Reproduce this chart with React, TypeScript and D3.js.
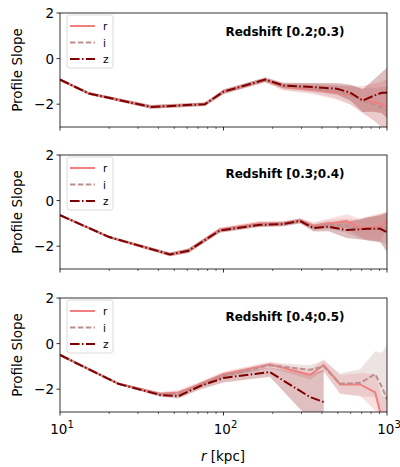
import * as d3 from 'd3';

// radii (kpc) and profile slopes
const radii1 = [10, 15, 36, 77, 100, 180, 232, 350, 493, 595, 711, 828, 930, 1000];
const slopeR1 = [-0.92, -1.53, -2.12, -2.0, -1.45, -0.95, -1.25, -1.35, -1.5, -1.6, -1.8, -1.9, -2.0, -2.1];
const slopeI1 = [-0.92, -1.53, -2.12, -2.0, -1.45, -0.95, -1.22, -1.3, -1.45, -1.6, -1.85, -2.0, -2.15, -2.25];
const slopeZ1 = [-0.92, -1.53, -2.12, -2.0, -1.45, -0.92, -1.18, -1.25, -1.32, -1.49, -1.84, -1.63, -1.5, -1.5];
const errR1 = [0.06, 0.06, 0.08, 0.08, 0.1, 0.1, 0.15, 0.2, 0.3, 0.4, 0.6, 0.8, 1.0, 1.2];
const errI1 = [0.06, 0.06, 0.08, 0.08, 0.1, 0.1, 0.15, 0.2, 0.3, 0.4, 0.55, 0.7, 0.9, 1.0];
const errZ1 = [0.06, 0.06, 0.08, 0.08, 0.1, 0.1, 0.12, 0.18, 0.25, 0.35, 0.5, 0.7, 0.9, 1.1];

const radii2 = [10, 20, 47, 61, 95, 164, 232, 294, 356, 437, 566, 686, 754, 910, 1000];
const slopeR2 = [-0.64, -1.6, -2.36, -2.2, -1.28, -1.0, -1.0, -0.88, -1.1, -1.0, -0.9, -1.2, -1.2, -1.15, -0.89];
const slopeI2 = [-0.64, -1.6, -2.36, -2.2, -1.3, -1.05, -1.02, -0.9, -1.15, -1.05, -1.1, -1.25, -1.25, -1.2, -1.2];
const slopeZ2 = [-0.64, -1.6, -2.36, -2.2, -1.31, -1.07, -1.03, -0.89, -1.21, -1.14, -1.29, -1.26, -1.24, -1.24, -1.39];
const errR2 = [0.05, 0.05, 0.08, 0.1, 0.1, 0.1, 0.1, 0.1, 0.15, 0.2, 0.3, 0.4, 0.5, 0.6, 0.4];
const errI2 = [0.05, 0.05, 0.08, 0.1, 0.1, 0.1, 0.1, 0.1, 0.15, 0.2, 0.3, 0.4, 0.5, 0.6, 0.7];
const errZ2 = [0.05, 0.05, 0.08, 0.1, 0.1, 0.1, 0.1, 0.1, 0.15, 0.2, 0.35, 0.45, 0.5, 0.6, 0.85];

const radii3 = [10, 22.7, 40.9, 53, 72, 100, 192, 339, 410, 517, 686, 847, 930, 1000];
const slopeR3 = [-0.5, -1.76, -2.2, -2.14, -1.79, -1.34, -0.92, -1.37, -0.94, -1.79, -1.79, -2.14, -3.3, -3.6];
const slopeI3 = [-0.5, -1.76, -2.22, -2.2, -1.82, -1.4, -0.95, -1.15, -1.0, -1.76, -1.72, -1.34, -1.9, -2.45];
const slopeZ3 = [-0.5, -1.76, -2.25, -2.31, -1.86, -1.51, -1.25, -2.35, -2.56];
const errR3 = [0.05, 0.05, 0.08, 0.1, 0.12, 0.12, 0.12, 0.2, 0.25, 0.4, 0.5, 0.8, 1.0, 1.2];
const errI3 = [0.05, 0.05, 0.08, 0.1, 0.12, 0.12, 0.12, 0.2, 0.25, 0.45, 0.6, 1.0, 1.5, 2.4];
const errZ3 = [0.05, 0.05, 0.08, 0.1, 0.15, 0.2, 0.2, 1.0, 1.4];

const panelTitles = ['Redshift [0.2;0.3)', 'Redshift [0.3;0.4)', 'Redshift [0.4;0.5)'];
const bandNames = ['r', 'i', 'z'];
const bandColors = ['#f08080', '#bc8f8f', '#800000'];
const bandDash = ['none', '5.5,2.4', '9.6,2.4,1.5,2.4'];
const yTicks = [2, 0, -2];
const xTicks = [10, 100, 1000];
const xTickExp = ['1', '2', '3'];

const panelData = [
  { radii: radii1, slopes: [slopeR1, slopeI1, slopeZ1], errs: [errR1, errI1, errZ1] },
  { radii: radii2, slopes: [slopeR2, slopeI2, slopeZ2], errs: [errR2, errI2, errZ2] },
  { radii: radii3, slopes: [slopeR3, slopeI3, slopeZ3], errs: [errR3, errI3, errZ3] },
];

const W = 400, H = 467;
const left = 60, right = 387, ph = 114;
const tops = [13, 155, 298];
const font = 'DejaVu Sans, sans-serif';

const x = d3.scaleLog().domain([10, 1000]).range([left, right]);
const minorTicks = d3.range(2, 10).flatMap(k => [k * 10, k * 100]);

function Panel({ idx }: { idx: number }) {
  const top = tops[idx];
  const y = d3.scaleLinear().domain([-3, 2]).range([top + ph, top]);
  const { radii, slopes, errs } = panelData[idx];
  const clipId = `clip${idx}`;
  const isLast = idx === 2;

  return (
    <g>
      <defs>
        <clipPath id={clipId}>
          <rect x={left} y={top} width={right - left} height={ph} />
        </clipPath>
      </defs>
      <g clipPath={`url(#${clipId})`}>
        {slopes.map((s, b) => {
          const pts = s.map((v, k) => ({ r: radii[k], v, e: errs[b][k] }));
          const area = d3.area<any>().x(d => x(d.r)).y0(d => y(d.v - d.e)).y1(d => y(d.v + d.e));
          return <path key={'a' + b} d={area(pts) || ''} fill={bandColors[b]} opacity={0.25} stroke="none" />;
        })}
        {slopes.map((s, b) => {
          const pts = s.map((v, k) => ({ r: radii[k], v }));
          const line = d3.line<any>().x(d => x(d.r)).y(d => y(d.v));
          return (
            <path key={'l' + b} d={line(pts) || ''} fill="none" stroke={bandColors[b]}
              strokeWidth={2} strokeDasharray={bandDash[b]} />
          );
        })}
      </g>
      <rect x={left} y={top} width={right - left} height={ph} fill="none" stroke="#000" strokeWidth={0.8} />
      {yTicks.map(t => (
        <g key={t}>
          <line x1={left - 3.5} x2={left} y1={y(t)} y2={y(t)} stroke="#000" strokeWidth={0.8} />
          <text x={left - 6} y={y(t) + 5} textAnchor="end" fontSize={13.5} fontFamily={font}>
            {t < 0 ? '\u2212' + Math.abs(t) : t}
          </text>
        </g>
      ))}
      {xTicks.map(t => (
        <line key={t} x1={x(t)} x2={x(t)} y1={top + ph} y2={top + ph + 3.5} stroke="#000" strokeWidth={0.8} />
      ))}
      {minorTicks.map(t => (
        <line key={'m' + t} x1={x(t)} x2={x(t)} y1={top + ph} y2={top + ph + 2} stroke="#000" strokeWidth={0.6} />
      ))}
      {isLast && xTicks.map((t, k) => (
        <text key={'xl' + t} x={x(t) + 2} y={top + ph + 22} textAnchor="middle" fontSize={13.5} fontFamily={font}>
          10<tspan dy={-6} fontSize={10}>{xTickExp[k]}</tspan>
        </text>
      ))}
      <text transform={`translate(22,${top + ph / 2}) rotate(-90)`} textAnchor="middle" fontSize={13.5} fontFamily={font}>
        Profile Slope
      </text>
      <text x={285} y={top + 23} textAnchor="middle" fontSize={12} fontWeight="bold" fontFamily={font}>
        {panelTitles[idx]}
      </text>
      <rect x={67} y={top + 2} width={46} height={53} rx={2.5} fill="#fff" fillOpacity={0.8} stroke="#d0d0d0" strokeWidth={0.8} />
      {bandNames.map((n, b) => (
        <g key={n}>
          <line x1={70} x2={95} y1={top + 13 + b * 16.5} y2={top + 13 + b * 16.5} stroke={bandColors[b]}
            strokeWidth={2} strokeDasharray={bandDash[b]} />
          <text x={103} y={top + 17 + b * 16.5} fontSize={10.5} fontFamily={font}>{n}</text>
        </g>
      ))}
    </g>
  );
}

export default function App() {
  return (
    <svg width={W} height={H} style={{ position: 'absolute', left: 0, top: 0, background: '#fff' }}>
      {[0, 1, 2].map(i => <Panel key={i} idx={i} />)}
      <text x={223} y={461} textAnchor="middle" fontSize={13.5} fontFamily={font}>
        <tspan fontStyle="italic">r</tspan> [kpc]
      </text>
    </svg>
  );
}
